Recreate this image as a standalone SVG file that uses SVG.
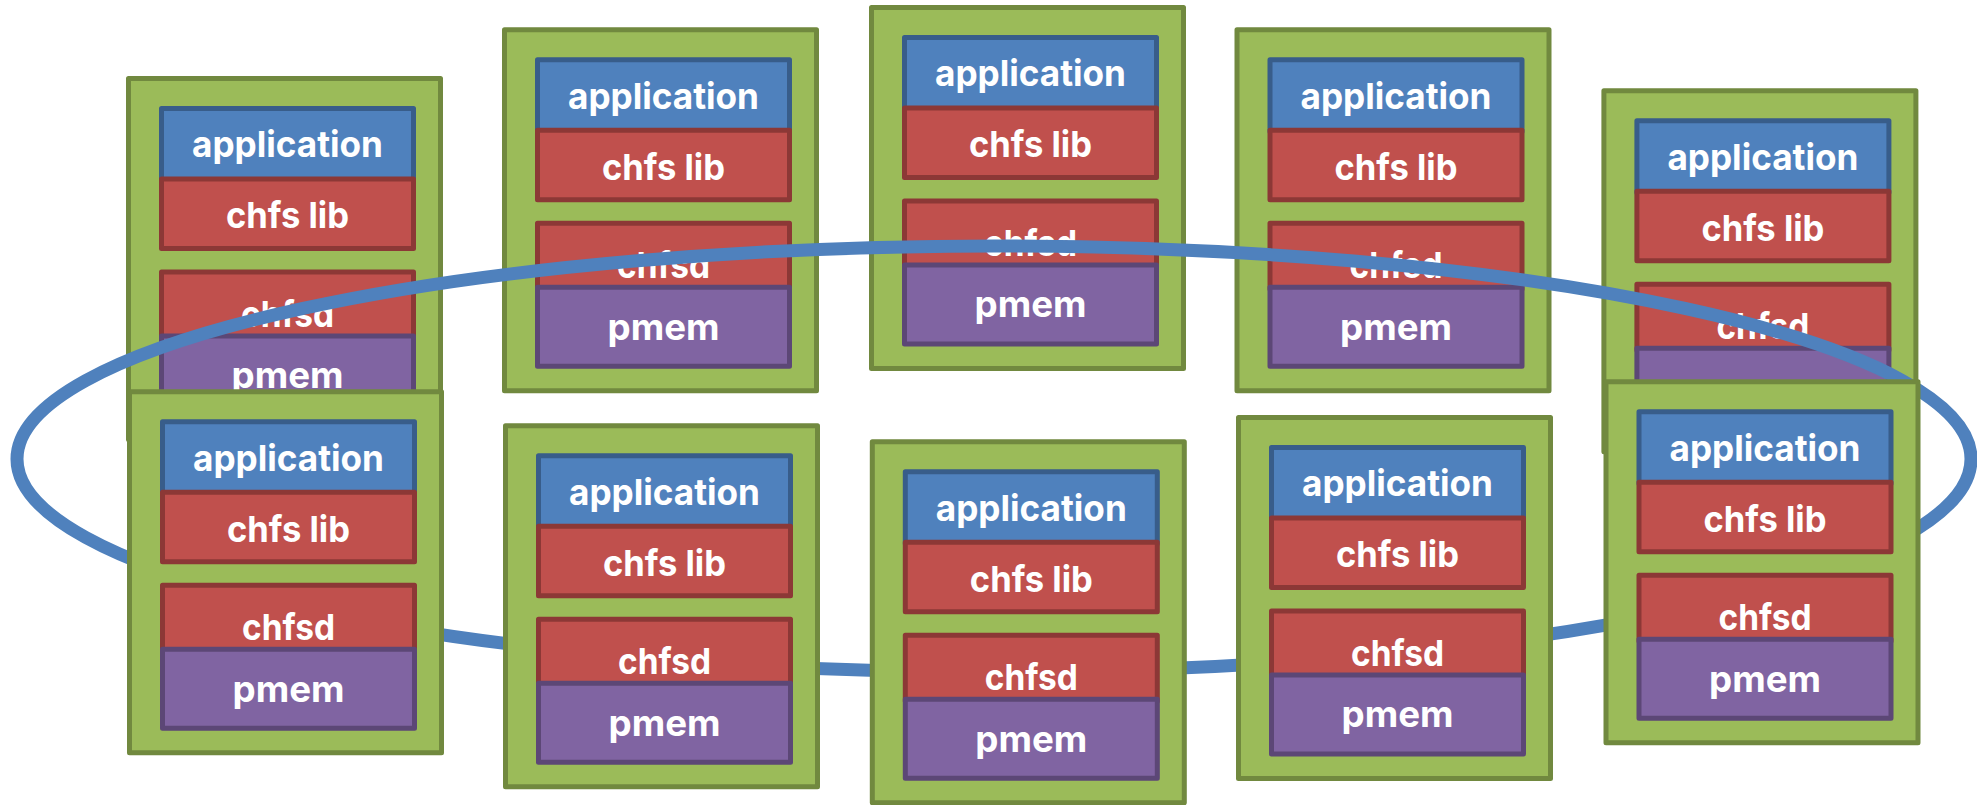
<svg xmlns="http://www.w3.org/2000/svg" width="1977" height="805" viewBox="0 0 1977 805">
  <style>
    .host { fill: #9BBB59; stroke: #71893F; stroke-width: 5; stroke-linejoin: round; }
    .app  { fill: #4F81BD; stroke: #385D8A; stroke-width: 5; stroke-linejoin: round; }
    .lib  { fill: #C0504D; stroke: #8C3836; stroke-width: 5; stroke-linejoin: round; }
    .pmem { fill: #8064A2; stroke: #5C4776; stroke-width: 5; stroke-linejoin: round; }
    .lbl  { fill: #FFFFFF; font-family: Inter, "Open Sans", "Liberation Sans", sans-serif; font-weight: 700; font-size: 36px; text-anchor: middle; }
    .ring { fill: none; stroke: #4F81BD; stroke-width: 13; }
  </style>

  <!-- upper row of hosts -->
  <g id="host-top-1" transform="translate(126,76)">
    <rect class="host" x="2.5" y="2.5" width="312" height="361"/>
    <rect class="app" x="35.5" y="32.5" width="252" height="72"/>
    <text class="lbl" x="161.5" y="81.4" textLength="191" lengthAdjust="spacingAndGlyphs">application</text>
    <rect class="lib" x="35.5" y="103" width="252" height="69.5"/>
    <text class="lbl" x="161.5" y="152.4" textLength="123" lengthAdjust="spacingAndGlyphs">chfs lib</text>
    <rect class="lib" x="35.5" y="196" width="252" height="66"/>
    <text class="lbl" x="161.5" y="250.7" textLength="93" lengthAdjust="spacingAndGlyphs">chfsd</text>
    <rect class="pmem" x="35.5" y="260" width="252" height="79"/>
    <text class="lbl" x="161.5" y="312.4" textLength="112" lengthAdjust="spacingAndGlyphs">pmem</text>
  </g>
  <g id="host-top-2" transform="translate(502,27.3)">
    <rect class="host" x="2.5" y="2.5" width="312" height="361"/>
    <rect class="app" x="35.5" y="32.5" width="252" height="72"/>
    <text class="lbl" x="161.5" y="81.4" textLength="191" lengthAdjust="spacingAndGlyphs">application</text>
    <rect class="lib" x="35.5" y="103" width="252" height="69.5"/>
    <text class="lbl" x="161.5" y="152.4" textLength="123" lengthAdjust="spacingAndGlyphs">chfs lib</text>
    <rect class="lib" x="35.5" y="196" width="252" height="66"/>
    <text class="lbl" x="161.5" y="250.7" textLength="93" lengthAdjust="spacingAndGlyphs">chfsd</text>
    <rect class="pmem" x="35.5" y="260" width="252" height="79"/>
    <text class="lbl" x="161.5" y="312.4" textLength="112" lengthAdjust="spacingAndGlyphs">pmem</text>
  </g>
  <g id="host-top-3" transform="translate(869,5)">
    <rect class="host" x="2.5" y="2.5" width="312" height="361"/>
    <rect class="app" x="35.5" y="32.5" width="252" height="72"/>
    <text class="lbl" x="161.5" y="81.4" textLength="191" lengthAdjust="spacingAndGlyphs">application</text>
    <rect class="lib" x="35.5" y="103" width="252" height="69.5"/>
    <text class="lbl" x="161.5" y="152.4" textLength="123" lengthAdjust="spacingAndGlyphs">chfs lib</text>
    <rect class="lib" x="35.5" y="196" width="252" height="66"/>
    <text class="lbl" x="161.5" y="250.7" textLength="93" lengthAdjust="spacingAndGlyphs">chfsd</text>
    <rect class="pmem" x="35.5" y="260" width="252" height="79"/>
    <text class="lbl" x="161.5" y="312.4" textLength="112" lengthAdjust="spacingAndGlyphs">pmem</text>
  </g>
  <g id="host-top-4" transform="translate(1234.5,27.3)">
    <rect class="host" x="2.5" y="2.5" width="312" height="361"/>
    <rect class="app" x="35.5" y="32.5" width="252" height="72"/>
    <text class="lbl" x="161.5" y="81.4" textLength="191" lengthAdjust="spacingAndGlyphs">application</text>
    <rect class="lib" x="35.5" y="103" width="252" height="69.5"/>
    <text class="lbl" x="161.5" y="152.4" textLength="123" lengthAdjust="spacingAndGlyphs">chfs lib</text>
    <rect class="lib" x="35.5" y="196" width="252" height="66"/>
    <text class="lbl" x="161.5" y="250.7" textLength="93" lengthAdjust="spacingAndGlyphs">chfsd</text>
    <rect class="pmem" x="35.5" y="260" width="252" height="79"/>
    <text class="lbl" x="161.5" y="312.4" textLength="112" lengthAdjust="spacingAndGlyphs">pmem</text>
  </g>
  <g id="host-top-5" transform="translate(1601.4,88.3)">
    <rect class="host" x="2.5" y="2.5" width="312" height="361"/>
    <rect class="app" x="35.5" y="32.5" width="252" height="72"/>
    <text class="lbl" x="161.5" y="81.4" textLength="191" lengthAdjust="spacingAndGlyphs">application</text>
    <rect class="lib" x="35.5" y="103" width="252" height="69.5"/>
    <text class="lbl" x="161.5" y="152.4" textLength="123" lengthAdjust="spacingAndGlyphs">chfs lib</text>
    <rect class="lib" x="35.5" y="196" width="252" height="66"/>
    <text class="lbl" x="161.5" y="250.7" textLength="93" lengthAdjust="spacingAndGlyphs">chfsd</text>
    <rect class="pmem" x="35.5" y="260" width="252" height="79"/>
    <text class="lbl" x="161.5" y="312.4" textLength="112" lengthAdjust="spacingAndGlyphs">pmem</text>
  </g>

  <!-- ring linking all hosts: passes over the upper row, under the lower row -->
  <g id="connectors">
    <ellipse class="ring" cx="994" cy="459" rx="977" ry="213"/>
  </g>

  <!-- lower row of hosts -->
  <g id="host-bottom-1" transform="translate(127,389.3)">
    <rect class="host" x="2.5" y="2.5" width="312" height="361"/>
    <rect class="app" x="35.5" y="32.5" width="252" height="72"/>
    <text class="lbl" x="161.5" y="81.4" textLength="191" lengthAdjust="spacingAndGlyphs">application</text>
    <rect class="lib" x="35.5" y="103" width="252" height="69.5"/>
    <text class="lbl" x="161.5" y="152.4" textLength="123" lengthAdjust="spacingAndGlyphs">chfs lib</text>
    <rect class="lib" x="35.5" y="196" width="252" height="66"/>
    <text class="lbl" x="161.5" y="250.7" textLength="93" lengthAdjust="spacingAndGlyphs">chfsd</text>
    <rect class="pmem" x="35.5" y="260" width="252" height="79"/>
    <text class="lbl" x="161.5" y="312.4" textLength="112" lengthAdjust="spacingAndGlyphs">pmem</text>
  </g>
  <g id="host-bottom-2" transform="translate(503,423.3)">
    <rect class="host" x="2.5" y="2.5" width="312" height="361"/>
    <rect class="app" x="35.5" y="32.5" width="252" height="72"/>
    <text class="lbl" x="161.5" y="81.4" textLength="191" lengthAdjust="spacingAndGlyphs">application</text>
    <rect class="lib" x="35.5" y="103" width="252" height="69.5"/>
    <text class="lbl" x="161.5" y="152.4" textLength="123" lengthAdjust="spacingAndGlyphs">chfs lib</text>
    <rect class="lib" x="35.5" y="196" width="252" height="66"/>
    <text class="lbl" x="161.5" y="250.7" textLength="93" lengthAdjust="spacingAndGlyphs">chfsd</text>
    <rect class="pmem" x="35.5" y="260" width="252" height="79"/>
    <text class="lbl" x="161.5" y="312.4" textLength="112" lengthAdjust="spacingAndGlyphs">pmem</text>
  </g>
  <g id="host-bottom-3" transform="translate(869.8,439.3)">
    <rect class="host" x="2.5" y="2.5" width="312" height="361"/>
    <rect class="app" x="35.5" y="32.5" width="252" height="72"/>
    <text class="lbl" x="161.5" y="81.4" textLength="191" lengthAdjust="spacingAndGlyphs">application</text>
    <rect class="lib" x="35.5" y="103" width="252" height="69.5"/>
    <text class="lbl" x="161.5" y="152.4" textLength="123" lengthAdjust="spacingAndGlyphs">chfs lib</text>
    <rect class="lib" x="35.5" y="196" width="252" height="66"/>
    <text class="lbl" x="161.5" y="250.7" textLength="93" lengthAdjust="spacingAndGlyphs">chfsd</text>
    <rect class="pmem" x="35.5" y="260" width="252" height="79"/>
    <text class="lbl" x="161.5" y="312.4" textLength="112" lengthAdjust="spacingAndGlyphs">pmem</text>
  </g>
  <g id="host-bottom-4" transform="translate(1236,415)">
    <rect class="host" x="2.5" y="2.5" width="312" height="361"/>
    <rect class="app" x="35.5" y="32.5" width="252" height="72"/>
    <text class="lbl" x="161.5" y="81.4" textLength="191" lengthAdjust="spacingAndGlyphs">application</text>
    <rect class="lib" x="35.5" y="103" width="252" height="69.5"/>
    <text class="lbl" x="161.5" y="152.4" textLength="123" lengthAdjust="spacingAndGlyphs">chfs lib</text>
    <rect class="lib" x="35.5" y="196" width="252" height="66"/>
    <text class="lbl" x="161.5" y="250.7" textLength="93" lengthAdjust="spacingAndGlyphs">chfsd</text>
    <rect class="pmem" x="35.5" y="260" width="252" height="79"/>
    <text class="lbl" x="161.5" y="312.4" textLength="112" lengthAdjust="spacingAndGlyphs">pmem</text>
  </g>
  <g id="host-bottom-5" transform="translate(1603.5,379.3)">
    <rect class="host" x="2.5" y="2.5" width="312" height="361"/>
    <rect class="app" x="35.5" y="32.5" width="252" height="72"/>
    <text class="lbl" x="161.5" y="81.4" textLength="191" lengthAdjust="spacingAndGlyphs">application</text>
    <rect class="lib" x="35.5" y="103" width="252" height="69.5"/>
    <text class="lbl" x="161.5" y="152.4" textLength="123" lengthAdjust="spacingAndGlyphs">chfs lib</text>
    <rect class="lib" x="35.5" y="196" width="252" height="66"/>
    <text class="lbl" x="161.5" y="250.7" textLength="93" lengthAdjust="spacingAndGlyphs">chfsd</text>
    <rect class="pmem" x="35.5" y="260" width="252" height="79"/>
    <text class="lbl" x="161.5" y="312.4" textLength="112" lengthAdjust="spacingAndGlyphs">pmem</text>
  </g>
</svg>
